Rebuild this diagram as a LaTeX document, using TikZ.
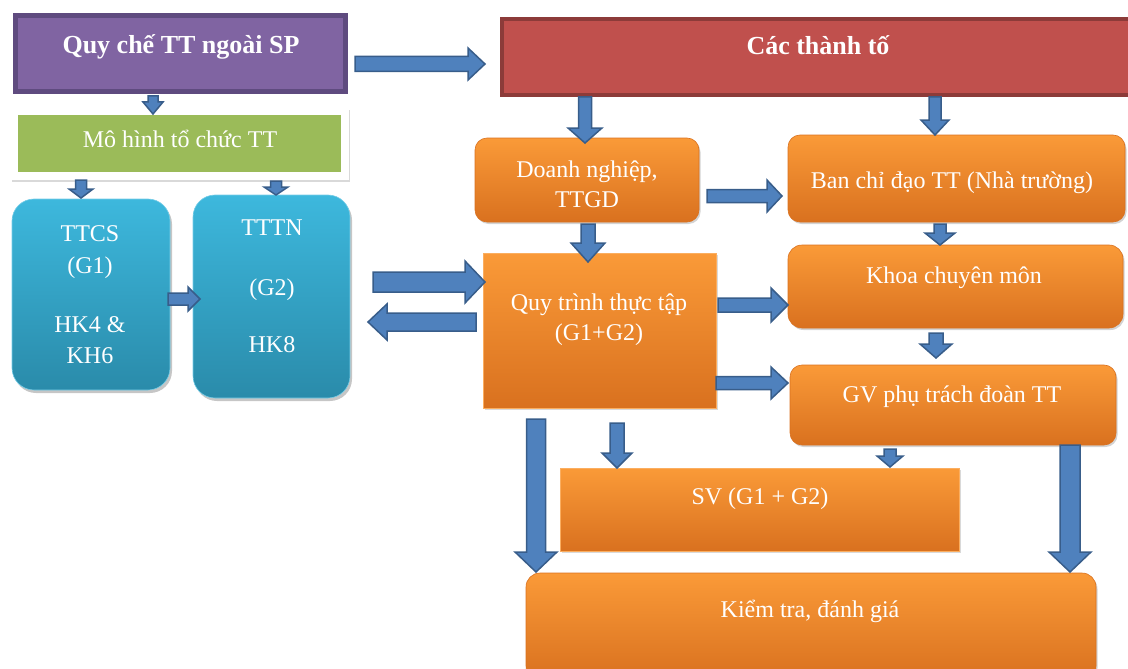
\documentclass[tikz,border=0pt]{standalone}
\usepackage{fontspec}
\setmainfont{Liberation Serif}
\usetikzlibrary{calc,shadows}

\definecolor{lila}{HTML}{8064A2}
\definecolor{lilarand}{HTML}{5F4B7F}
\definecolor{gruen}{HTML}{9BBB59}
\definecolor{rot}{HTML}{C0504D}
\definecolor{rotrand}{HTML}{8C3B39}
\definecolor{oroben}{HTML}{FA9A38}
\definecolor{orunten}{HTML}{D9711F}
\definecolor{cyanoben}{HTML}{3DB8DD}
\definecolor{cyanunten}{HTML}{2A8BAA}
\definecolor{pfeil}{HTML}{4F81BD}
\definecolor{pfeilrand}{HTML}{385D8A}

\tikzset{
  shaftw/.store in=\shaftw, headw/.store in=\headw, headl/.store in=\headl,
  shaftw=6pt, headw=15pt, headl=15pt,
  barr/.style={draw=pfeilrand, fill=pfeil, line width=1.5pt, line join=miter,
    to path={let \p1=(\tikztostart), \p2=(\tikztotarget), \p3=($(\p2)!\headl!(\p1)$) in
      ($(\p1)!\shaftw!90:(\p2)$) -- ($(\p3)!\shaftw!90:(\p2)$) -- ($(\p3)!\headw!90:(\p2)$) -- (\p2)
      -- ($(\p3)!\headw!-90:(\p2)$) -- ($(\p3)!\shaftw!-90:(\p2)$) -- ($(\p1)!\shaftw!-90:(\p2)$) -- cycle}}
}

\begin{document}
\begin{tikzpicture}[x=1pt, y=-1pt,
  box/.style={outer sep=0pt, inner sep=0pt},
  obox/.style={box, rounded corners=12pt, top color=oroben, bottom color=orunten,
    draw=orunten, line width=.6pt, drop shadow={opacity=.35, shadow xshift=1.5pt, shadow yshift=-2pt}},
  qbox/.style={box, top color=oroben, bottom color=orunten, draw=oroben!80!white, line width=.8pt,
    drop shadow={opacity=.3, shadow xshift=1.5pt, shadow yshift=-1.5pt}},
  cbox/.style={box, rounded corners=22pt, top color=cyanoben, bottom color=cyanunten,
    draw=cyanoben!70!white, line width=.6pt, drop shadow={opacity=.45, shadow xshift=2pt, shadow yshift=-3pt}},
  txt/.style={text=white, font=\fontsize{24}{30}\selectfont, align=center, anchor=base, inner sep=0pt},
  btxt/.style={txt, font=\bfseries\fontsize{26}{30}\selectfont}]
  \useasboundingbox (0,0) rectangle (1128,669);
  \clip (0,0) rectangle (1128,669);

  % links
  \node[box, draw=lilarand, line width=5pt, fill=lila, minimum width=330, minimum height=76] (quyche) at (180.5,53.5) {};
  \node[btxt] (quyche-t) at (181,54) {Quy chế TT ngoài SP};
  \node[box, fill=white, minimum width=338, minimum height=72, drop shadow={opacity=.3, shadow xshift=1pt, shadow yshift=-2pt}] (mohinh-f) at (180,144) {};
  \node[box, fill=gruen, minimum width=323, minimum height=57] (mohinh) at (179.5,143.5) {};
  \node[txt] (mohinh-t) at (180,147) {Mô hình tổ chức TT};
  \node[cbox, minimum width=158, minimum height=191] (ttcs) at (91,294.5) {};
  \node[txt] (ttcs-t) at (90,363) {TTCS\\[2pt](G1)\\[29pt]HK4 \&\\[1pt]KH6};
  \node[cbox, minimum width=157, minimum height=203] (tttn) at (271.5,296.5) {};
  \node[txt] (tttn-t) at (272,352) {TTTN\\[30pt](G2)\\[27pt]HK8};

  % rechts
  \node[box, draw=rotrand, line width=4pt, fill=rot, minimum width=638, minimum height=76] (thanhto) at (821,57) {};
  \node[btxt] (thanhto-t) at (818,55) {Các thành tố};
  \node[obox, minimum width=224, minimum height=84] (doanh) at (587,180) {};
  \node[txt] (doanh-t) at (587,207) {Doanh nghiệp,\\TTGD};
  \node[obox, minimum width=337, minimum height=87] (ban) at (956.5,178.5) {};
  \node[txt] (ban-t) at (952,188) {Ban chỉ đạo TT (Nhà trường)};
  \node[qbox, minimum width=233, minimum height=155] (quytrinh) at (599.5,330.5) {};
  \node[txt] (quytrinh-t) at (599,340) {Quy trình thực tập\\(G1+G2)};
  \node[obox, rounded corners=14pt, minimum width=335, minimum height=83] (khoa) at (955.5,286.5) {};
  \node[txt] (khoa-t) at (954,283) {Khoa chuyên môn};
  \node[obox, minimum width=326, minimum height=80] (gv) at (953,405) {};
  \node[txt] (gv-t) at (952,402) {GV phụ trách đoàn TT};
  \node[qbox, minimum width=399, minimum height=83] (sv) at (759.5,509.5) {};
  \node[txt] (sv-t) at (760,504) {SV (G1 + G2)};
  \node[obox, rounded corners=14pt, minimum width=570, minimum height=107] (kiemtra) at (811,626.5) {};
  \node[txt] (kiemtra-t) at (810,617) {Kiểm tra, đánh giá};

  % Pfeile
  \draw[barr, shaftw=7.5pt, headw=16pt, headl=17pt] ([shift={(9.5,10.5)}]quyche.east) to ([shift={(-17,7)}]thanhto.west);
  \draw[barr, shaftw=5pt, headw=10pt, headl=12pt] ([shift={(-27.5,4.5)}]quyche.south) to ([shift={(-26.5,-1)}]mohinh.north);
  \draw[barr, shaftw=5.5pt, headw=12pt, headl=9pt] ([shift={(-98.5,8)}]mohinh.south) to ([shift={(-10,-1)}]ttcs.north);
  \draw[barr, shaftw=5.5pt, headw=12pt, headl=8pt] ([shift={(96.5,9)}]mohinh.south) to ([shift={(4.5,0)}]tttn.north);
  \draw[barr, shaftw=6pt, headw=12pt, headl=12pt] ([shift={(-2,4.5)}]ttcs.east) to ([shift={(7,2.5)}]tttn.west);
  \draw[barr, shaftw=10pt, headw=21pt, headl=20pt] ([shift={(23,-14.5)}]tttn.east) to ([shift={(2,-48.5)}]quytrinh.west);
  \draw[barr, shaftw=9pt, headw=18pt, headl=19pt] ([shift={(-7,-8.5)}]quytrinh.west) to ([shift={(18,25.5)}]tttn.east);
  \draw[barr, shaftw=6.5pt, headw=17pt, headl=15pt] ([shift={(-236,2)}]thanhto.south) to ([shift={(-2,5)}]doanh.north);
  \draw[barr, shaftw=6pt, headw=14pt, headl=15pt] ([shift={(114,2)}]thanhto.south) to ([shift={(-21.5,0)}]ban.north);
  \draw[barr, shaftw=6.5pt, headw=16pt, headl=15pt] ([shift={(8,16)}]doanh.east) to ([shift={(-6,17.5)}]ban.west);
  \draw[barr, shaftw=7pt, headw=17pt, headl=19pt] ([shift={(1,2)}]doanh.south) to ([shift={(-11.5,9)}]quytrinh.north);
  \draw[barr, shaftw=6pt, headw=15pt, headl=12pt] ([shift={(-16.5,2)}]ban.south) to ([shift={(-15.5,0)}]khoa.north);
  \draw[barr, shaftw=7pt, headw=17pt, headl=17pt] ([shift={(2,-25.5)}]quytrinh.east) to ([shift={(0,18.5)}]khoa.west);
  \draw[barr, shaftw=7pt, headw=16pt, headl=14pt] ([shift={(-19.5,5)}]khoa.south) to ([shift={(-17,-7)}]gv.north);
  \draw[barr, shaftw=6.5pt, headw=16pt, headl=17pt] ([shift={(0,52.5)}]quytrinh.east) to ([shift={(-2,-22)}]gv.west);
  \draw[barr, shaftw=9.5pt, headw=21pt, headl=20pt] ([shift={(-63.5,11)}]quytrinh.south) to ([shift={(-275,-1)}]kiemtra.north);
  \draw[barr, shaftw=7pt, headw=15pt, headl=15pt] ([shift={(17.5,15)}]quytrinh.south) to ([shift={(-142.5,0)}]sv.north);
  \draw[barr, shaftw=6pt, headw=13pt, headl=11pt] ([shift={(-63,4)}]gv.south) to ([shift={(130.5,-1)}]sv.north);
  \draw[barr, shaftw=10pt, headw=21pt, headl=20pt] ([shift={(117,0)}]gv.south) to ([shift={(259,-1)}]kiemtra.north);
\end{tikzpicture}
\end{document}
